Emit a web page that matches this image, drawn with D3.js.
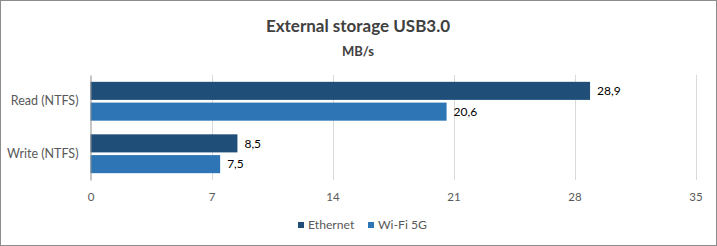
<!DOCTYPE html>
<html><head><meta charset="utf-8">
<script src="https://cdn.jsdelivr.net/npm/d3@7"></script>
<style>body{margin:0;background:#fff}svg{display:block;font-family:Lato,"Open Sans",sans-serif}</style>
</head><body><svg id="c" width="717" height="246"></svg>
<script>
const categories = ["Read (NTFS)", "Write (NTFS)"];
const seriesNames = ["Ethernet", "Wi-Fi 5G"];
const ethernet = [28.9, 8.5];
const wifi = [20.6, 7.5];
const ticks = [0, 7, 14, 21, 28, 35];
const colors = ["#1F4E79", "#2E75B6"];

const svg = d3.select("#c");
svg.append("rect").attr("x",0.5).attr("y",0.5).attr("width",716).attr("height",245)
  .attr("fill","#fff").attr("stroke","#8c8c8c");

const x = d3.scaleLinear().domain([0,35]).range([90.5,695.5]);
const y0 = d3.scaleBand().domain(categories).range([75,180]).paddingInner(0.26).paddingOuter(0.13);
const y1 = d3.scaleBand().domain(seriesNames).range([0,y0.bandwidth()]).paddingInner(0.13);

svg.append("text").attr("x",358).attr("y",32).attr("text-anchor","middle")
  .attr("font-size",17).attr("font-weight","bold").attr("fill","#404040").text("External storage USB3.0");
svg.append("text").attr("x",358).attr("y",56).attr("text-anchor","middle")
  .attr("font-size",13).attr("font-weight","bold").attr("fill","#404040").text("MB/s");

// gridlines
svg.append("g").selectAll("line").data(ticks.slice(1)).join("line")
  .attr("x1",d=>Math.round(x(d))+0.5).attr("x2",d=>Math.round(x(d))+0.5)
  .attr("y1",75).attr("y2",180).attr("stroke","#d9d9d9");

// x axis labels
const xa = svg.append("g").attr("transform","translate(0,180)")
  .call(d3.axisBottom(x).tickValues(ticks).tickSize(0).tickPadding(13).tickFormat(d=>d));
xa.select(".domain").remove();
xa.selectAll("text").attr("font-size",11.5).attr("fill","#595959").attr("font-family","Lato,'Open Sans',sans-serif");

const data = categories.map((c,i)=>({c, vals:[ethernet[i], wifi[i]]}));
const g = svg.append("g").selectAll("g").data(data).join("g")
  .attr("transform",d=>`translate(0,${y0(d.c)})`);
g.selectAll("rect").data(d=>d.vals.map((v,j)=>({v,s:seriesNames[j],j}))).join("rect")
  .attr("x",x(0)).attr("y",d=>y1(d.s)).attr("height",y1.bandwidth())
  .attr("width",d=>x(d.v)-x(0)).attr("fill",d=>colors[d.j]);
g.selectAll("text").data(d=>d.vals.map((v,j)=>({v,s:seriesNames[j],j}))).join("text")
  .attr("x",d=>x(d.v)+7).attr("y",d=>y1(d.s)+y1.bandwidth()/2).attr("dy","0.35em")
  .attr("font-size",12).attr("fill","#000").text(d=>d3.format(".1f")(d.v).replace(".",","));

// y axis
const ya = svg.append("g").attr("transform",`translate(${x(0)},0)`)
  .call(d3.axisLeft(y0).tickSize(0).tickPadding(12));
ya.select(".domain").attr("stroke","#8c8c8c");
ya.selectAll("text").attr("font-size",12.5).attr("fill","#595959").attr("font-family","Lato,'Open Sans',sans-serif");

// legend
const lg = svg.append("g").attr("transform","translate(298,226)");
const lx = [0, 70];
seriesNames.forEach((s,i)=>{
  lg.append("rect").attr("x",lx[i]).attr("y",-4).attr("width",6).attr("height",6).attr("fill",colors[i]);
  lg.append("text").attr("x",lx[i]+10).attr("y",-1).attr("dy","0.35em").attr("font-size",12.2).attr("fill","#595959").text(s);
});
</script></body></html>
